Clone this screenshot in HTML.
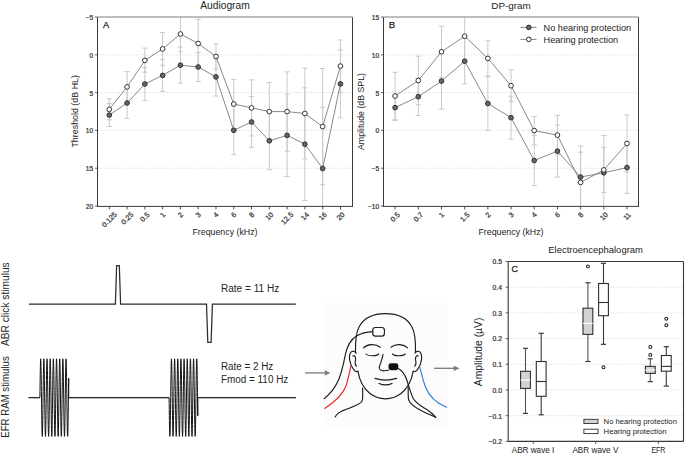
<!DOCTYPE html><html><head><meta charset="utf-8"><title>Figure</title><style>html,body{margin:0;padding:0;background:#fff;width:685px;height:455px;overflow:hidden;}body{position:relative;font-family:"Liberation Sans", sans-serif;}svg text{font-family:"Liberation Sans", sans-serif;}</style></head><body><svg width="685" height="455" viewBox="0 0 685 455" style="position:absolute;left:0;top:0;font-family:'Liberation Sans', sans-serif">
<defs><clipPath id="clipA"><rect x="97.5" y="17.0" width="255.0" height="189.0"/></clipPath><clipPath id="clipB"><rect x="383.5" y="17.0" width="255.0" height="189.0"/></clipPath></defs>
<rect width="685" height="455" fill="#ffffff"/>
<line x1="97.50" y1="54.80" x2="352.50" y2="54.80" stroke="#dadada" stroke-width="0.8" stroke-dasharray="1.6,1.4"/>
<line x1="97.50" y1="92.60" x2="352.50" y2="92.60" stroke="#dadada" stroke-width="0.8" stroke-dasharray="1.6,1.4"/>
<line x1="97.50" y1="130.40" x2="352.50" y2="130.40" stroke="#dadada" stroke-width="0.8" stroke-dasharray="1.6,1.4"/>
<line x1="97.50" y1="168.20" x2="352.50" y2="168.20" stroke="#dadada" stroke-width="0.8" stroke-dasharray="1.6,1.4"/>
<line x1="95.00" y1="17.00" x2="97.50" y2="17.00" stroke="#3a3a3a" stroke-width="0.8"/>
<text x="93.20" y="19.90" font-size="6.6" text-anchor="end" fill="#333" stroke="#333" stroke-width="0.22">−5</text>
<line x1="95.00" y1="54.80" x2="97.50" y2="54.80" stroke="#3a3a3a" stroke-width="0.8"/>
<text x="93.20" y="57.70" font-size="6.6" text-anchor="end" fill="#333" stroke="#333" stroke-width="0.22">0</text>
<line x1="95.00" y1="92.60" x2="97.50" y2="92.60" stroke="#3a3a3a" stroke-width="0.8"/>
<text x="93.20" y="95.50" font-size="6.6" text-anchor="end" fill="#333" stroke="#333" stroke-width="0.22">5</text>
<line x1="95.00" y1="130.40" x2="97.50" y2="130.40" stroke="#3a3a3a" stroke-width="0.8"/>
<text x="93.20" y="133.30" font-size="6.6" text-anchor="end" fill="#333" stroke="#333" stroke-width="0.22">10</text>
<line x1="95.00" y1="168.20" x2="97.50" y2="168.20" stroke="#3a3a3a" stroke-width="0.8"/>
<text x="93.20" y="171.10" font-size="6.6" text-anchor="end" fill="#333" stroke="#333" stroke-width="0.22">15</text>
<line x1="95.00" y1="206.00" x2="97.50" y2="206.00" stroke="#3a3a3a" stroke-width="0.8"/>
<text x="93.20" y="208.90" font-size="6.6" text-anchor="end" fill="#333" stroke="#333" stroke-width="0.22">20</text>
<g clip-path="url(#clipA)">
<line x1="109.30" y1="103.70" x2="109.30" y2="126.50" stroke="#c9c9c9" stroke-width="1.0"/>
<line x1="106.70" y1="103.70" x2="111.90" y2="103.70" stroke="#c9c9c9" stroke-width="1.0"/>
<line x1="106.70" y1="126.50" x2="111.90" y2="126.50" stroke="#c9c9c9" stroke-width="1.0"/>
<line x1="127.08" y1="87.40" x2="127.08" y2="118.60" stroke="#c9c9c9" stroke-width="1.0"/>
<line x1="124.48" y1="87.40" x2="129.68" y2="87.40" stroke="#c9c9c9" stroke-width="1.0"/>
<line x1="124.48" y1="118.60" x2="129.68" y2="118.60" stroke="#c9c9c9" stroke-width="1.0"/>
<line x1="144.86" y1="67.40" x2="144.86" y2="100.60" stroke="#c9c9c9" stroke-width="1.0"/>
<line x1="142.26" y1="67.40" x2="147.46" y2="67.40" stroke="#c9c9c9" stroke-width="1.0"/>
<line x1="142.26" y1="100.60" x2="147.46" y2="100.60" stroke="#c9c9c9" stroke-width="1.0"/>
<line x1="162.64" y1="59.50" x2="162.64" y2="91.40" stroke="#c9c9c9" stroke-width="1.0"/>
<line x1="160.04" y1="59.50" x2="165.24" y2="59.50" stroke="#c9c9c9" stroke-width="1.0"/>
<line x1="160.04" y1="91.40" x2="165.24" y2="91.40" stroke="#c9c9c9" stroke-width="1.0"/>
<line x1="180.42" y1="47.00" x2="180.42" y2="83.20" stroke="#c9c9c9" stroke-width="1.0"/>
<line x1="177.82" y1="47.00" x2="183.02" y2="47.00" stroke="#c9c9c9" stroke-width="1.0"/>
<line x1="177.82" y1="83.20" x2="183.02" y2="83.20" stroke="#c9c9c9" stroke-width="1.0"/>
<line x1="198.20" y1="52.50" x2="198.20" y2="81.50" stroke="#c9c9c9" stroke-width="1.0"/>
<line x1="195.60" y1="52.50" x2="200.80" y2="52.50" stroke="#c9c9c9" stroke-width="1.0"/>
<line x1="195.60" y1="81.50" x2="200.80" y2="81.50" stroke="#c9c9c9" stroke-width="1.0"/>
<line x1="215.98" y1="57.80" x2="215.98" y2="96.00" stroke="#c9c9c9" stroke-width="1.0"/>
<line x1="213.38" y1="57.80" x2="218.58" y2="57.80" stroke="#c9c9c9" stroke-width="1.0"/>
<line x1="213.38" y1="96.00" x2="218.58" y2="96.00" stroke="#c9c9c9" stroke-width="1.0"/>
<line x1="233.76" y1="105.90" x2="233.76" y2="154.70" stroke="#c9c9c9" stroke-width="1.0"/>
<line x1="231.16" y1="105.90" x2="236.36" y2="105.90" stroke="#c9c9c9" stroke-width="1.0"/>
<line x1="231.16" y1="154.70" x2="236.36" y2="154.70" stroke="#c9c9c9" stroke-width="1.0"/>
<line x1="251.54" y1="96.60" x2="251.54" y2="147.40" stroke="#c9c9c9" stroke-width="1.0"/>
<line x1="248.94" y1="96.60" x2="254.14" y2="96.60" stroke="#c9c9c9" stroke-width="1.0"/>
<line x1="248.94" y1="147.40" x2="254.14" y2="147.40" stroke="#c9c9c9" stroke-width="1.0"/>
<line x1="269.32" y1="111.90" x2="269.32" y2="169.70" stroke="#c9c9c9" stroke-width="1.0"/>
<line x1="266.72" y1="111.90" x2="271.92" y2="111.90" stroke="#c9c9c9" stroke-width="1.0"/>
<line x1="266.72" y1="169.70" x2="271.92" y2="169.70" stroke="#c9c9c9" stroke-width="1.0"/>
<line x1="287.10" y1="94.20" x2="287.10" y2="176.60" stroke="#c9c9c9" stroke-width="1.0"/>
<line x1="284.50" y1="94.20" x2="289.70" y2="94.20" stroke="#c9c9c9" stroke-width="1.0"/>
<line x1="284.50" y1="176.60" x2="289.70" y2="176.60" stroke="#c9c9c9" stroke-width="1.0"/>
<line x1="304.88" y1="87.80" x2="304.88" y2="200.60" stroke="#c9c9c9" stroke-width="1.0"/>
<line x1="302.28" y1="87.80" x2="307.48" y2="87.80" stroke="#c9c9c9" stroke-width="1.0"/>
<line x1="302.28" y1="200.60" x2="307.48" y2="200.60" stroke="#c9c9c9" stroke-width="1.0"/>
<line x1="322.66" y1="107.30" x2="322.66" y2="229.70" stroke="#c9c9c9" stroke-width="1.0"/>
<line x1="320.06" y1="107.30" x2="325.26" y2="107.30" stroke="#c9c9c9" stroke-width="1.0"/>
<line x1="340.44" y1="50.00" x2="340.44" y2="117.80" stroke="#c9c9c9" stroke-width="1.0"/>
<line x1="337.84" y1="50.00" x2="343.04" y2="50.00" stroke="#c9c9c9" stroke-width="1.0"/>
<line x1="337.84" y1="117.80" x2="343.04" y2="117.80" stroke="#c9c9c9" stroke-width="1.0"/>
</g>
<g clip-path="url(#clipA)">
<line x1="109.30" y1="98.80" x2="109.30" y2="119.80" stroke="#c9c9c9" stroke-width="1.0"/>
<line x1="106.70" y1="98.80" x2="111.90" y2="98.80" stroke="#c9c9c9" stroke-width="1.0"/>
<line x1="106.70" y1="119.80" x2="111.90" y2="119.80" stroke="#c9c9c9" stroke-width="1.0"/>
<line x1="127.08" y1="71.60" x2="127.08" y2="102.20" stroke="#c9c9c9" stroke-width="1.0"/>
<line x1="124.48" y1="71.60" x2="129.68" y2="71.60" stroke="#c9c9c9" stroke-width="1.0"/>
<line x1="124.48" y1="102.20" x2="129.68" y2="102.20" stroke="#c9c9c9" stroke-width="1.0"/>
<line x1="144.86" y1="48.10" x2="144.86" y2="72.30" stroke="#c9c9c9" stroke-width="1.0"/>
<line x1="142.26" y1="48.10" x2="147.46" y2="48.10" stroke="#c9c9c9" stroke-width="1.0"/>
<line x1="142.26" y1="72.30" x2="147.46" y2="72.30" stroke="#c9c9c9" stroke-width="1.0"/>
<line x1="162.64" y1="32.60" x2="162.64" y2="65.30" stroke="#c9c9c9" stroke-width="1.0"/>
<line x1="160.04" y1="32.60" x2="165.24" y2="32.60" stroke="#c9c9c9" stroke-width="1.0"/>
<line x1="160.04" y1="65.30" x2="165.24" y2="65.30" stroke="#c9c9c9" stroke-width="1.0"/>
<line x1="180.42" y1="16.40" x2="180.42" y2="51.60" stroke="#c9c9c9" stroke-width="1.0"/>
<line x1="177.82" y1="51.60" x2="183.02" y2="51.60" stroke="#c9c9c9" stroke-width="1.0"/>
<line x1="198.20" y1="19.30" x2="198.20" y2="67.70" stroke="#c9c9c9" stroke-width="1.0"/>
<line x1="195.60" y1="19.30" x2="200.80" y2="19.30" stroke="#c9c9c9" stroke-width="1.0"/>
<line x1="195.60" y1="67.70" x2="200.80" y2="67.70" stroke="#c9c9c9" stroke-width="1.0"/>
<line x1="215.98" y1="43.70" x2="215.98" y2="69.30" stroke="#c9c9c9" stroke-width="1.0"/>
<line x1="213.38" y1="43.70" x2="218.58" y2="43.70" stroke="#c9c9c9" stroke-width="1.0"/>
<line x1="213.38" y1="69.30" x2="218.58" y2="69.30" stroke="#c9c9c9" stroke-width="1.0"/>
<line x1="233.76" y1="79.50" x2="233.76" y2="128.50" stroke="#c9c9c9" stroke-width="1.0"/>
<line x1="231.16" y1="79.50" x2="236.36" y2="79.50" stroke="#c9c9c9" stroke-width="1.0"/>
<line x1="231.16" y1="128.50" x2="236.36" y2="128.50" stroke="#c9c9c9" stroke-width="1.0"/>
<line x1="251.54" y1="79.90" x2="251.54" y2="135.90" stroke="#c9c9c9" stroke-width="1.0"/>
<line x1="248.94" y1="79.90" x2="254.14" y2="79.90" stroke="#c9c9c9" stroke-width="1.0"/>
<line x1="248.94" y1="135.90" x2="254.14" y2="135.90" stroke="#c9c9c9" stroke-width="1.0"/>
<line x1="269.32" y1="82.50" x2="269.32" y2="140.70" stroke="#c9c9c9" stroke-width="1.0"/>
<line x1="266.72" y1="82.50" x2="271.92" y2="82.50" stroke="#c9c9c9" stroke-width="1.0"/>
<line x1="266.72" y1="140.70" x2="271.92" y2="140.70" stroke="#c9c9c9" stroke-width="1.0"/>
<line x1="287.10" y1="71.90" x2="287.10" y2="151.30" stroke="#c9c9c9" stroke-width="1.0"/>
<line x1="284.50" y1="71.90" x2="289.70" y2="71.90" stroke="#c9c9c9" stroke-width="1.0"/>
<line x1="284.50" y1="151.30" x2="289.70" y2="151.30" stroke="#c9c9c9" stroke-width="1.0"/>
<line x1="304.88" y1="68.10" x2="304.88" y2="158.90" stroke="#c9c9c9" stroke-width="1.0"/>
<line x1="302.28" y1="68.10" x2="307.48" y2="68.10" stroke="#c9c9c9" stroke-width="1.0"/>
<line x1="302.28" y1="158.90" x2="307.48" y2="158.90" stroke="#c9c9c9" stroke-width="1.0"/>
<line x1="322.66" y1="68.50" x2="322.66" y2="184.70" stroke="#c9c9c9" stroke-width="1.0"/>
<line x1="320.06" y1="68.50" x2="325.26" y2="68.50" stroke="#c9c9c9" stroke-width="1.0"/>
<line x1="320.06" y1="184.70" x2="325.26" y2="184.70" stroke="#c9c9c9" stroke-width="1.0"/>
<line x1="340.44" y1="40.00" x2="340.44" y2="92.20" stroke="#c9c9c9" stroke-width="1.0"/>
<line x1="337.84" y1="40.00" x2="343.04" y2="40.00" stroke="#c9c9c9" stroke-width="1.0"/>
<line x1="337.84" y1="92.20" x2="343.04" y2="92.20" stroke="#c9c9c9" stroke-width="1.0"/>
</g>
<polyline points="109.30,115.10 127.08,103.00 144.86,84.00 162.64,75.40 180.42,65.20 198.20,67.00 215.98,76.90 233.76,130.30 251.54,122.00 269.32,140.80 287.10,135.40 304.88,144.20 322.66,168.50 340.44,83.90" fill="none" stroke="#7a7a7a" stroke-width="0.9"/>
<polyline points="109.30,109.30 127.08,86.90 144.86,60.40 162.64,48.90 180.42,34.00 198.20,43.50 215.98,56.50 233.76,104.00 251.54,107.90 269.32,111.60 287.10,111.60 304.88,113.50 322.66,126.60 340.44,66.10" fill="none" stroke="#7a7a7a" stroke-width="0.9"/>
<circle cx="109.30" cy="115.10" r="2.35" fill="#666666" stroke="#2a2a2a" stroke-width="0.95"/>
<circle cx="127.08" cy="103.00" r="2.35" fill="#666666" stroke="#2a2a2a" stroke-width="0.95"/>
<circle cx="144.86" cy="84.00" r="2.35" fill="#666666" stroke="#2a2a2a" stroke-width="0.95"/>
<circle cx="162.64" cy="75.40" r="2.35" fill="#666666" stroke="#2a2a2a" stroke-width="0.95"/>
<circle cx="180.42" cy="65.20" r="2.35" fill="#666666" stroke="#2a2a2a" stroke-width="0.95"/>
<circle cx="198.20" cy="67.00" r="2.35" fill="#666666" stroke="#2a2a2a" stroke-width="0.95"/>
<circle cx="215.98" cy="76.90" r="2.35" fill="#666666" stroke="#2a2a2a" stroke-width="0.95"/>
<circle cx="233.76" cy="130.30" r="2.35" fill="#666666" stroke="#2a2a2a" stroke-width="0.95"/>
<circle cx="251.54" cy="122.00" r="2.35" fill="#666666" stroke="#2a2a2a" stroke-width="0.95"/>
<circle cx="269.32" cy="140.80" r="2.35" fill="#666666" stroke="#2a2a2a" stroke-width="0.95"/>
<circle cx="287.10" cy="135.40" r="2.35" fill="#666666" stroke="#2a2a2a" stroke-width="0.95"/>
<circle cx="304.88" cy="144.20" r="2.35" fill="#666666" stroke="#2a2a2a" stroke-width="0.95"/>
<circle cx="322.66" cy="168.50" r="2.35" fill="#666666" stroke="#2a2a2a" stroke-width="0.95"/>
<circle cx="340.44" cy="83.90" r="2.35" fill="#666666" stroke="#2a2a2a" stroke-width="0.95"/>
<circle cx="109.30" cy="109.30" r="2.35" fill="#ffffff" stroke="#2a2a2a" stroke-width="0.95"/>
<circle cx="127.08" cy="86.90" r="2.35" fill="#ffffff" stroke="#2a2a2a" stroke-width="0.95"/>
<circle cx="144.86" cy="60.40" r="2.35" fill="#ffffff" stroke="#2a2a2a" stroke-width="0.95"/>
<circle cx="162.64" cy="48.90" r="2.35" fill="#ffffff" stroke="#2a2a2a" stroke-width="0.95"/>
<circle cx="180.42" cy="34.00" r="2.35" fill="#ffffff" stroke="#2a2a2a" stroke-width="0.95"/>
<circle cx="198.20" cy="43.50" r="2.35" fill="#ffffff" stroke="#2a2a2a" stroke-width="0.95"/>
<circle cx="215.98" cy="56.50" r="2.35" fill="#ffffff" stroke="#2a2a2a" stroke-width="0.95"/>
<circle cx="233.76" cy="104.00" r="2.35" fill="#ffffff" stroke="#2a2a2a" stroke-width="0.95"/>
<circle cx="251.54" cy="107.90" r="2.35" fill="#ffffff" stroke="#2a2a2a" stroke-width="0.95"/>
<circle cx="269.32" cy="111.60" r="2.35" fill="#ffffff" stroke="#2a2a2a" stroke-width="0.95"/>
<circle cx="287.10" cy="111.60" r="2.35" fill="#ffffff" stroke="#2a2a2a" stroke-width="0.95"/>
<circle cx="304.88" cy="113.50" r="2.35" fill="#ffffff" stroke="#2a2a2a" stroke-width="0.95"/>
<circle cx="322.66" cy="126.60" r="2.35" fill="#ffffff" stroke="#2a2a2a" stroke-width="0.95"/>
<circle cx="340.44" cy="66.10" r="2.35" fill="#ffffff" stroke="#2a2a2a" stroke-width="0.95"/>
<line x1="97.00" y1="206.40" x2="353.00" y2="206.40" stroke="#3a3a3a" stroke-width="1.0"/>
<line x1="97.50" y1="17.00" x2="97.50" y2="206.90" stroke="#3a3a3a" stroke-width="1.0"/>
<line x1="352.50" y1="17.00" x2="352.50" y2="206.90" stroke="#3a3a3a" stroke-width="1.0"/>
<line x1="97.50" y1="17.00" x2="352.50" y2="17.00" stroke="#a8a8a8" stroke-width="1.3"/>
<line x1="109.30" y1="206.90" x2="109.30" y2="209.40" stroke="#3a3a3a" stroke-width="0.9"/>
<line x1="127.08" y1="206.90" x2="127.08" y2="209.40" stroke="#3a3a3a" stroke-width="0.9"/>
<line x1="144.86" y1="206.90" x2="144.86" y2="209.40" stroke="#3a3a3a" stroke-width="0.9"/>
<line x1="162.64" y1="206.90" x2="162.64" y2="209.40" stroke="#3a3a3a" stroke-width="0.9"/>
<line x1="180.42" y1="206.90" x2="180.42" y2="209.40" stroke="#3a3a3a" stroke-width="0.9"/>
<line x1="198.20" y1="206.90" x2="198.20" y2="209.40" stroke="#3a3a3a" stroke-width="0.9"/>
<line x1="215.98" y1="206.90" x2="215.98" y2="209.40" stroke="#3a3a3a" stroke-width="0.9"/>
<line x1="233.76" y1="206.90" x2="233.76" y2="209.40" stroke="#3a3a3a" stroke-width="0.9"/>
<line x1="251.54" y1="206.90" x2="251.54" y2="209.40" stroke="#3a3a3a" stroke-width="0.9"/>
<line x1="269.32" y1="206.90" x2="269.32" y2="209.40" stroke="#3a3a3a" stroke-width="0.9"/>
<line x1="287.10" y1="206.90" x2="287.10" y2="209.40" stroke="#3a3a3a" stroke-width="0.9"/>
<line x1="304.88" y1="206.90" x2="304.88" y2="209.40" stroke="#3a3a3a" stroke-width="0.9"/>
<line x1="322.66" y1="206.90" x2="322.66" y2="209.40" stroke="#3a3a3a" stroke-width="0.9"/>
<line x1="340.44" y1="206.90" x2="340.44" y2="209.40" stroke="#3a3a3a" stroke-width="0.9"/>
<text x="225.00" y="8.80" font-size="10.1" text-anchor="middle" fill="#222" textLength="49.50" lengthAdjust="spacingAndGlyphs">Audiogram</text>
<text x="103.00" y="27.60" font-size="9.3" text-anchor="start" fill="#222" stroke="#222" stroke-width="0.25">A</text>
<text x="225.00" y="235.20" font-size="8.7" text-anchor="middle" fill="#222" textLength="65.00" lengthAdjust="spacingAndGlyphs">Frequency (kHz)</text>
<text transform="translate(77.9,111.3) rotate(-90)" font-size="9.3" text-anchor="middle" fill="#222" textLength="72.5" lengthAdjust="spacingAndGlyphs">Threshold (dB HL)</text>
<line x1="383.50" y1="54.80" x2="638.50" y2="54.80" stroke="#dadada" stroke-width="0.8" stroke-dasharray="1.6,1.4"/>
<line x1="383.50" y1="92.60" x2="638.50" y2="92.60" stroke="#dadada" stroke-width="0.8" stroke-dasharray="1.6,1.4"/>
<line x1="383.50" y1="130.40" x2="638.50" y2="130.40" stroke="#dadada" stroke-width="0.8" stroke-dasharray="1.6,1.4"/>
<line x1="383.50" y1="168.20" x2="638.50" y2="168.20" stroke="#dadada" stroke-width="0.8" stroke-dasharray="1.6,1.4"/>
<line x1="381.00" y1="17.00" x2="383.50" y2="17.00" stroke="#3a3a3a" stroke-width="0.8"/>
<text x="379.20" y="19.90" font-size="6.6" text-anchor="end" fill="#333" stroke="#333" stroke-width="0.22">15</text>
<line x1="381.00" y1="54.80" x2="383.50" y2="54.80" stroke="#3a3a3a" stroke-width="0.8"/>
<text x="379.20" y="57.70" font-size="6.6" text-anchor="end" fill="#333" stroke="#333" stroke-width="0.22">10</text>
<line x1="381.00" y1="92.60" x2="383.50" y2="92.60" stroke="#3a3a3a" stroke-width="0.8"/>
<text x="379.20" y="95.50" font-size="6.6" text-anchor="end" fill="#333" stroke="#333" stroke-width="0.22">5</text>
<line x1="381.00" y1="130.40" x2="383.50" y2="130.40" stroke="#3a3a3a" stroke-width="0.8"/>
<text x="379.20" y="133.30" font-size="6.6" text-anchor="end" fill="#333" stroke="#333" stroke-width="0.22">0</text>
<line x1="381.00" y1="168.20" x2="383.50" y2="168.20" stroke="#3a3a3a" stroke-width="0.8"/>
<text x="379.20" y="171.10" font-size="6.6" text-anchor="end" fill="#333" stroke="#333" stroke-width="0.22">−5</text>
<line x1="381.00" y1="206.00" x2="383.50" y2="206.00" stroke="#3a3a3a" stroke-width="0.8"/>
<text x="379.20" y="208.90" font-size="6.6" text-anchor="end" fill="#333" stroke="#333" stroke-width="0.22">−10</text>
<g clip-path="url(#clipB)">
<line x1="395.10" y1="94.80" x2="395.10" y2="120.60" stroke="#c9c9c9" stroke-width="1.0"/>
<line x1="392.50" y1="94.80" x2="397.70" y2="94.80" stroke="#c9c9c9" stroke-width="1.0"/>
<line x1="392.50" y1="120.60" x2="397.70" y2="120.60" stroke="#c9c9c9" stroke-width="1.0"/>
<line x1="418.29" y1="77.90" x2="418.29" y2="115.50" stroke="#c9c9c9" stroke-width="1.0"/>
<line x1="415.69" y1="77.90" x2="420.89" y2="77.90" stroke="#c9c9c9" stroke-width="1.0"/>
<line x1="415.69" y1="115.50" x2="420.89" y2="115.50" stroke="#c9c9c9" stroke-width="1.0"/>
<line x1="441.48" y1="53.00" x2="441.48" y2="109.20" stroke="#c9c9c9" stroke-width="1.0"/>
<line x1="438.88" y1="53.00" x2="444.08" y2="53.00" stroke="#c9c9c9" stroke-width="1.0"/>
<line x1="438.88" y1="109.20" x2="444.08" y2="109.20" stroke="#c9c9c9" stroke-width="1.0"/>
<line x1="464.67" y1="38.60" x2="464.67" y2="83.80" stroke="#c9c9c9" stroke-width="1.0"/>
<line x1="462.07" y1="38.60" x2="467.27" y2="38.60" stroke="#c9c9c9" stroke-width="1.0"/>
<line x1="462.07" y1="83.80" x2="467.27" y2="83.80" stroke="#c9c9c9" stroke-width="1.0"/>
<line x1="487.86" y1="76.70" x2="487.86" y2="130.30" stroke="#c9c9c9" stroke-width="1.0"/>
<line x1="485.26" y1="76.70" x2="490.46" y2="76.70" stroke="#c9c9c9" stroke-width="1.0"/>
<line x1="485.26" y1="130.30" x2="490.46" y2="130.30" stroke="#c9c9c9" stroke-width="1.0"/>
<line x1="511.05" y1="96.20" x2="511.05" y2="139.20" stroke="#c9c9c9" stroke-width="1.0"/>
<line x1="508.45" y1="96.20" x2="513.65" y2="96.20" stroke="#c9c9c9" stroke-width="1.0"/>
<line x1="508.45" y1="139.20" x2="513.65" y2="139.20" stroke="#c9c9c9" stroke-width="1.0"/>
<line x1="534.24" y1="135.40" x2="534.24" y2="185.60" stroke="#c9c9c9" stroke-width="1.0"/>
<line x1="531.64" y1="135.40" x2="536.84" y2="135.40" stroke="#c9c9c9" stroke-width="1.0"/>
<line x1="531.64" y1="185.60" x2="536.84" y2="185.60" stroke="#c9c9c9" stroke-width="1.0"/>
<line x1="557.43" y1="125.10" x2="557.43" y2="177.10" stroke="#c9c9c9" stroke-width="1.0"/>
<line x1="554.83" y1="125.10" x2="560.03" y2="125.10" stroke="#c9c9c9" stroke-width="1.0"/>
<line x1="554.83" y1="177.10" x2="560.03" y2="177.10" stroke="#c9c9c9" stroke-width="1.0"/>
<line x1="580.62" y1="146.00" x2="580.62" y2="208.00" stroke="#c9c9c9" stroke-width="1.0"/>
<line x1="578.02" y1="146.00" x2="583.22" y2="146.00" stroke="#c9c9c9" stroke-width="1.0"/>
<line x1="603.81" y1="135.40" x2="603.81" y2="210.20" stroke="#c9c9c9" stroke-width="1.0"/>
<line x1="601.21" y1="135.40" x2="606.41" y2="135.40" stroke="#c9c9c9" stroke-width="1.0"/>
<line x1="627.00" y1="141.80" x2="627.00" y2="193.40" stroke="#c9c9c9" stroke-width="1.0"/>
<line x1="624.40" y1="141.80" x2="629.60" y2="141.80" stroke="#c9c9c9" stroke-width="1.0"/>
<line x1="624.40" y1="193.40" x2="629.60" y2="193.40" stroke="#c9c9c9" stroke-width="1.0"/>
</g>
<g clip-path="url(#clipB)">
<line x1="395.10" y1="72.30" x2="395.10" y2="119.70" stroke="#c9c9c9" stroke-width="1.0"/>
<line x1="392.50" y1="72.30" x2="397.70" y2="72.30" stroke="#c9c9c9" stroke-width="1.0"/>
<line x1="392.50" y1="119.70" x2="397.70" y2="119.70" stroke="#c9c9c9" stroke-width="1.0"/>
<line x1="418.29" y1="56.20" x2="418.29" y2="104.80" stroke="#c9c9c9" stroke-width="1.0"/>
<line x1="415.69" y1="56.20" x2="420.89" y2="56.20" stroke="#c9c9c9" stroke-width="1.0"/>
<line x1="415.69" y1="104.80" x2="420.89" y2="104.80" stroke="#c9c9c9" stroke-width="1.0"/>
<line x1="441.48" y1="26.20" x2="441.48" y2="77.40" stroke="#c9c9c9" stroke-width="1.0"/>
<line x1="438.88" y1="26.20" x2="444.08" y2="26.20" stroke="#c9c9c9" stroke-width="1.0"/>
<line x1="438.88" y1="77.40" x2="444.08" y2="77.40" stroke="#c9c9c9" stroke-width="1.0"/>
<line x1="464.67" y1="11.20" x2="464.67" y2="61.20" stroke="#c9c9c9" stroke-width="1.0"/>
<line x1="462.07" y1="61.20" x2="467.27" y2="61.20" stroke="#c9c9c9" stroke-width="1.0"/>
<line x1="487.86" y1="40.80" x2="487.86" y2="76.20" stroke="#c9c9c9" stroke-width="1.0"/>
<line x1="485.26" y1="40.80" x2="490.46" y2="40.80" stroke="#c9c9c9" stroke-width="1.0"/>
<line x1="485.26" y1="76.20" x2="490.46" y2="76.20" stroke="#c9c9c9" stroke-width="1.0"/>
<line x1="511.05" y1="69.70" x2="511.05" y2="101.70" stroke="#c9c9c9" stroke-width="1.0"/>
<line x1="508.45" y1="69.70" x2="513.65" y2="69.70" stroke="#c9c9c9" stroke-width="1.0"/>
<line x1="508.45" y1="101.70" x2="513.65" y2="101.70" stroke="#c9c9c9" stroke-width="1.0"/>
<line x1="534.24" y1="116.50" x2="534.24" y2="145.00" stroke="#c9c9c9" stroke-width="1.0"/>
<line x1="531.64" y1="116.50" x2="536.84" y2="116.50" stroke="#c9c9c9" stroke-width="1.0"/>
<line x1="531.64" y1="145.00" x2="536.84" y2="145.00" stroke="#c9c9c9" stroke-width="1.0"/>
<line x1="557.43" y1="115.40" x2="557.43" y2="154.80" stroke="#c9c9c9" stroke-width="1.0"/>
<line x1="554.83" y1="115.40" x2="560.03" y2="115.40" stroke="#c9c9c9" stroke-width="1.0"/>
<line x1="554.83" y1="154.80" x2="560.03" y2="154.80" stroke="#c9c9c9" stroke-width="1.0"/>
<line x1="580.62" y1="152.20" x2="580.62" y2="212.60" stroke="#c9c9c9" stroke-width="1.0"/>
<line x1="578.02" y1="152.20" x2="583.22" y2="152.20" stroke="#c9c9c9" stroke-width="1.0"/>
<line x1="603.81" y1="147.30" x2="603.81" y2="192.50" stroke="#c9c9c9" stroke-width="1.0"/>
<line x1="601.21" y1="147.30" x2="606.41" y2="147.30" stroke="#c9c9c9" stroke-width="1.0"/>
<line x1="601.21" y1="192.50" x2="606.41" y2="192.50" stroke="#c9c9c9" stroke-width="1.0"/>
<line x1="627.00" y1="115.00" x2="627.00" y2="172.00" stroke="#c9c9c9" stroke-width="1.0"/>
<line x1="624.40" y1="115.00" x2="629.60" y2="115.00" stroke="#c9c9c9" stroke-width="1.0"/>
<line x1="624.40" y1="172.00" x2="629.60" y2="172.00" stroke="#c9c9c9" stroke-width="1.0"/>
</g>
<polyline points="395.10,107.60 418.29,96.70 441.48,81.10 464.67,61.20 487.86,103.50 511.05,117.70 534.24,160.50 557.43,151.10 580.62,177.00 603.81,172.80 627.00,167.60" fill="none" stroke="#7a7a7a" stroke-width="0.9"/>
<polyline points="395.10,96.00 418.29,80.50 441.48,51.80 464.67,36.20 487.86,58.40 511.05,85.70 534.24,130.60 557.43,135.10 580.62,182.40 603.81,169.90 627.00,143.50" fill="none" stroke="#7a7a7a" stroke-width="0.9"/>
<circle cx="395.10" cy="107.60" r="2.35" fill="#666666" stroke="#2a2a2a" stroke-width="0.95"/>
<circle cx="418.29" cy="96.70" r="2.35" fill="#666666" stroke="#2a2a2a" stroke-width="0.95"/>
<circle cx="441.48" cy="81.10" r="2.35" fill="#666666" stroke="#2a2a2a" stroke-width="0.95"/>
<circle cx="464.67" cy="61.20" r="2.35" fill="#666666" stroke="#2a2a2a" stroke-width="0.95"/>
<circle cx="487.86" cy="103.50" r="2.35" fill="#666666" stroke="#2a2a2a" stroke-width="0.95"/>
<circle cx="511.05" cy="117.70" r="2.35" fill="#666666" stroke="#2a2a2a" stroke-width="0.95"/>
<circle cx="534.24" cy="160.50" r="2.35" fill="#666666" stroke="#2a2a2a" stroke-width="0.95"/>
<circle cx="557.43" cy="151.10" r="2.35" fill="#666666" stroke="#2a2a2a" stroke-width="0.95"/>
<circle cx="580.62" cy="177.00" r="2.35" fill="#666666" stroke="#2a2a2a" stroke-width="0.95"/>
<circle cx="603.81" cy="172.80" r="2.35" fill="#666666" stroke="#2a2a2a" stroke-width="0.95"/>
<circle cx="627.00" cy="167.60" r="2.35" fill="#666666" stroke="#2a2a2a" stroke-width="0.95"/>
<circle cx="395.10" cy="96.00" r="2.35" fill="#ffffff" stroke="#2a2a2a" stroke-width="0.95"/>
<circle cx="418.29" cy="80.50" r="2.35" fill="#ffffff" stroke="#2a2a2a" stroke-width="0.95"/>
<circle cx="441.48" cy="51.80" r="2.35" fill="#ffffff" stroke="#2a2a2a" stroke-width="0.95"/>
<circle cx="464.67" cy="36.20" r="2.35" fill="#ffffff" stroke="#2a2a2a" stroke-width="0.95"/>
<circle cx="487.86" cy="58.40" r="2.35" fill="#ffffff" stroke="#2a2a2a" stroke-width="0.95"/>
<circle cx="511.05" cy="85.70" r="2.35" fill="#ffffff" stroke="#2a2a2a" stroke-width="0.95"/>
<circle cx="534.24" cy="130.60" r="2.35" fill="#ffffff" stroke="#2a2a2a" stroke-width="0.95"/>
<circle cx="557.43" cy="135.10" r="2.35" fill="#ffffff" stroke="#2a2a2a" stroke-width="0.95"/>
<circle cx="580.62" cy="182.40" r="2.35" fill="#ffffff" stroke="#2a2a2a" stroke-width="0.95"/>
<circle cx="603.81" cy="169.90" r="2.35" fill="#ffffff" stroke="#2a2a2a" stroke-width="0.95"/>
<circle cx="627.00" cy="143.50" r="2.35" fill="#ffffff" stroke="#2a2a2a" stroke-width="0.95"/>
<line x1="383.00" y1="206.40" x2="639.00" y2="206.40" stroke="#3a3a3a" stroke-width="1.0"/>
<line x1="383.50" y1="17.00" x2="383.50" y2="206.90" stroke="#3a3a3a" stroke-width="1.0"/>
<line x1="638.50" y1="17.00" x2="638.50" y2="206.90" stroke="#3a3a3a" stroke-width="1.0"/>
<line x1="383.50" y1="17.00" x2="638.50" y2="17.00" stroke="#a8a8a8" stroke-width="1.3"/>
<line x1="395.10" y1="206.90" x2="395.10" y2="209.40" stroke="#3a3a3a" stroke-width="0.9"/>
<line x1="418.29" y1="206.90" x2="418.29" y2="209.40" stroke="#3a3a3a" stroke-width="0.9"/>
<line x1="441.48" y1="206.90" x2="441.48" y2="209.40" stroke="#3a3a3a" stroke-width="0.9"/>
<line x1="464.67" y1="206.90" x2="464.67" y2="209.40" stroke="#3a3a3a" stroke-width="0.9"/>
<line x1="487.86" y1="206.90" x2="487.86" y2="209.40" stroke="#3a3a3a" stroke-width="0.9"/>
<line x1="511.05" y1="206.90" x2="511.05" y2="209.40" stroke="#3a3a3a" stroke-width="0.9"/>
<line x1="534.24" y1="206.90" x2="534.24" y2="209.40" stroke="#3a3a3a" stroke-width="0.9"/>
<line x1="557.43" y1="206.90" x2="557.43" y2="209.40" stroke="#3a3a3a" stroke-width="0.9"/>
<line x1="580.62" y1="206.90" x2="580.62" y2="209.40" stroke="#3a3a3a" stroke-width="0.9"/>
<line x1="603.81" y1="206.90" x2="603.81" y2="209.40" stroke="#3a3a3a" stroke-width="0.9"/>
<line x1="627.00" y1="206.90" x2="627.00" y2="209.40" stroke="#3a3a3a" stroke-width="0.9"/>
<text x="511.00" y="8.80" font-size="9.7" text-anchor="middle" fill="#222" textLength="39.40" lengthAdjust="spacingAndGlyphs">DP-gram</text>
<text x="388.80" y="27.70" font-size="9.6" text-anchor="start" fill="#222" stroke="#222" stroke-width="0.25">B</text>
<text x="511.00" y="235.20" font-size="8.7" text-anchor="middle" fill="#222" textLength="65.00" lengthAdjust="spacingAndGlyphs">Frequency (kHz)</text>
<text transform="translate(364.3,111.5) rotate(-90)" font-size="9.3" text-anchor="middle" fill="#222" textLength="77" lengthAdjust="spacingAndGlyphs">Amplitude (dB SPL)</text>
<line x1="520.40" y1="27.40" x2="536.60" y2="27.40" stroke="#7a7a7a" stroke-width="0.9"/>
<circle cx="528.8" cy="27.4" r="2.3" fill="#666666" stroke="#2a2a2a" stroke-width="1.0"/>
<text x="543.60" y="30.60" font-size="9.1" text-anchor="start" fill="#222" textLength="87.50" lengthAdjust="spacingAndGlyphs">No hearing protection</text>
<line x1="520.40" y1="39.40" x2="536.60" y2="39.40" stroke="#7a7a7a" stroke-width="0.9"/>
<circle cx="528.8" cy="39.4" r="2.3" fill="#fff" stroke="#2a2a2a" stroke-width="1.0"/>
<text x="543.60" y="42.60" font-size="9.1" text-anchor="start" fill="#222" textLength="74.60" lengthAdjust="spacingAndGlyphs">Hearing protection</text>
<text transform="translate(109.30,219.55) rotate(-45)" font-size="7.2" text-anchor="middle" dominant-baseline="central" fill="#333" stroke="#333" stroke-width="0.22">0.125</text>
<text transform="translate(127.08,218.20) rotate(-45)" font-size="7.2" text-anchor="middle" dominant-baseline="central" fill="#333" stroke="#333" stroke-width="0.22">0.25</text>
<text transform="translate(144.86,216.85) rotate(-45)" font-size="7.2" text-anchor="middle" dominant-baseline="central" fill="#333" stroke="#333" stroke-width="0.22">0.5</text>
<text transform="translate(162.64,214.82) rotate(-45)" font-size="7.2" text-anchor="middle" dominant-baseline="central" fill="#333" stroke="#333" stroke-width="0.22">1</text>
<text transform="translate(180.42,214.82) rotate(-45)" font-size="7.2" text-anchor="middle" dominant-baseline="central" fill="#333" stroke="#333" stroke-width="0.22">2</text>
<text transform="translate(198.20,214.82) rotate(-45)" font-size="7.2" text-anchor="middle" dominant-baseline="central" fill="#333" stroke="#333" stroke-width="0.22">3</text>
<text transform="translate(215.98,214.82) rotate(-45)" font-size="7.2" text-anchor="middle" dominant-baseline="central" fill="#333" stroke="#333" stroke-width="0.22">4</text>
<text transform="translate(233.76,214.82) rotate(-45)" font-size="7.2" text-anchor="middle" dominant-baseline="central" fill="#333" stroke="#333" stroke-width="0.22">6</text>
<text transform="translate(251.54,214.82) rotate(-45)" font-size="7.2" text-anchor="middle" dominant-baseline="central" fill="#333" stroke="#333" stroke-width="0.22">8</text>
<text transform="translate(269.32,216.17) rotate(-45)" font-size="7.2" text-anchor="middle" dominant-baseline="central" fill="#333" stroke="#333" stroke-width="0.22">10</text>
<text transform="translate(287.10,218.20) rotate(-45)" font-size="7.2" text-anchor="middle" dominant-baseline="central" fill="#333" stroke="#333" stroke-width="0.22">12.5</text>
<text transform="translate(304.88,216.17) rotate(-45)" font-size="7.2" text-anchor="middle" dominant-baseline="central" fill="#333" stroke="#333" stroke-width="0.22">14</text>
<text transform="translate(322.66,216.17) rotate(-45)" font-size="7.2" text-anchor="middle" dominant-baseline="central" fill="#333" stroke="#333" stroke-width="0.22">16</text>
<text transform="translate(340.44,216.17) rotate(-45)" font-size="7.2" text-anchor="middle" dominant-baseline="central" fill="#333" stroke="#333" stroke-width="0.22">20</text>
<text transform="translate(395.10,216.85) rotate(-45)" font-size="7.2" text-anchor="middle" dominant-baseline="central" fill="#333" stroke="#333" stroke-width="0.22">0.5</text>
<text transform="translate(418.29,216.85) rotate(-45)" font-size="7.2" text-anchor="middle" dominant-baseline="central" fill="#333" stroke="#333" stroke-width="0.22">0.7</text>
<text transform="translate(441.48,214.82) rotate(-45)" font-size="7.2" text-anchor="middle" dominant-baseline="central" fill="#333" stroke="#333" stroke-width="0.22">1</text>
<text transform="translate(464.67,216.85) rotate(-45)" font-size="7.2" text-anchor="middle" dominant-baseline="central" fill="#333" stroke="#333" stroke-width="0.22">1.5</text>
<text transform="translate(487.86,214.82) rotate(-45)" font-size="7.2" text-anchor="middle" dominant-baseline="central" fill="#333" stroke="#333" stroke-width="0.22">2</text>
<text transform="translate(511.05,214.82) rotate(-45)" font-size="7.2" text-anchor="middle" dominant-baseline="central" fill="#333" stroke="#333" stroke-width="0.22">3</text>
<text transform="translate(534.24,214.82) rotate(-45)" font-size="7.2" text-anchor="middle" dominant-baseline="central" fill="#333" stroke="#333" stroke-width="0.22">4</text>
<text transform="translate(557.43,214.82) rotate(-45)" font-size="7.2" text-anchor="middle" dominant-baseline="central" fill="#333" stroke="#333" stroke-width="0.22">6</text>
<text transform="translate(580.62,214.82) rotate(-45)" font-size="7.2" text-anchor="middle" dominant-baseline="central" fill="#333" stroke="#333" stroke-width="0.22">8</text>
<text transform="translate(603.81,216.17) rotate(-45)" font-size="7.2" text-anchor="middle" dominant-baseline="central" fill="#333" stroke="#333" stroke-width="0.22">10</text>
<text transform="translate(627.00,216.17) rotate(-45)" font-size="7.2" text-anchor="middle" dominant-baseline="central" fill="#333" stroke="#333" stroke-width="0.22">11</text>
<polyline points="28.9,304 115.4,304 116.6,265.5 119.3,265.5 120.6,304 206.5,304 207.8,342.4 211.1,342.4 212.4,304 295.8,304" fill="none" stroke="#2b2b2b" stroke-width="1.25" stroke-linejoin="miter"/>
<polyline points="28.60,397.60 39.90,397.60 39.98,391.53 40.06,385.60 40.14,379.97 40.22,374.78 40.30,370.15 40.38,366.19 40.46,363.01 40.53,360.69 40.61,359.27 40.69,358.80 40.77,359.29 40.85,360.72 40.93,363.06 41.01,366.25 41.09,370.22 41.17,374.86 41.25,380.07 41.33,385.70 41.41,391.63 41.49,397.71 41.57,403.78 41.65,409.70 41.72,415.32 41.80,420.51 41.88,425.13 41.96,429.07 42.04,432.24 42.12,434.55 42.20,435.95 42.28,436.40 42.36,435.90 42.44,434.45 42.52,432.09 42.60,428.88 42.68,424.90 42.76,420.25 42.83,415.04 42.91,409.40 42.99,403.46 43.07,397.39 43.15,391.31 43.23,385.40 43.31,379.78 43.39,374.60 43.47,369.99 43.55,366.07 43.63,362.92 43.71,360.62 43.79,359.24 43.87,358.80 43.95,359.32 44.02,360.79 44.10,363.16 44.18,366.38 44.26,370.37 44.34,375.04 44.42,380.26 44.50,385.91 44.58,391.84 44.66,397.92 44.74,403.99 44.82,409.91 44.90,415.52 44.98,420.68 45.06,425.28 45.14,429.20 45.21,432.33 45.29,434.61 45.37,435.98 45.45,436.40 45.53,435.86 45.61,434.38 45.69,431.99 45.77,428.75 45.85,424.75 45.93,420.07 46.01,414.85 46.09,409.19 46.17,403.25 46.25,397.17 46.32,391.10 46.40,385.19 46.48,379.59 46.56,374.43 46.64,369.84 46.72,365.94 46.80,362.82 46.88,360.56 46.96,359.21 47.04,358.80 47.12,359.36 47.20,360.85 47.28,363.26 47.36,366.51 47.44,370.53 47.51,375.21 47.59,380.45 47.67,386.11 47.75,392.06 47.83,398.14 47.91,404.21 47.99,410.11 48.07,415.71 48.15,420.86 48.23,425.43 48.31,429.32 48.39,432.43 48.47,434.68 48.55,436.01 48.63,436.40 48.70,435.82 48.78,434.31 48.86,431.89 48.94,428.63 49.02,424.60 49.10,419.90 49.18,414.65 49.26,408.99 49.34,403.04 49.42,396.96 49.50,390.89 49.58,384.99 49.66,379.40 49.74,374.26 49.81,369.69 49.89,365.82 49.97,362.72 50.05,360.49 50.13,359.18 50.21,358.81 50.29,359.39 50.37,360.92 50.45,363.36 50.53,366.64 50.61,370.68 50.69,375.39 50.77,380.64 50.85,386.32 50.93,392.27 51.00,398.35 51.08,404.42 51.16,410.31 51.24,415.90 51.32,421.03 51.40,425.58 51.48,429.44 51.56,432.52 51.64,434.74 51.72,436.04 51.80,436.39 51.88,435.79 51.96,434.24 52.04,431.79 52.12,428.50 52.19,424.44 52.27,419.72 52.35,414.46 52.43,408.78 52.51,402.82 52.59,396.74 52.67,390.68 52.75,384.79 52.83,379.21 52.91,374.09 52.99,369.54 53.07,365.69 53.15,362.63 53.23,360.43 53.31,359.15 53.38,358.81 53.46,359.43 53.54,361.00 53.62,363.46 53.70,366.77 53.78,370.84 53.86,375.57 53.94,380.84 54.02,386.52 54.10,392.48 54.18,398.57 54.26,404.63 54.34,410.52 54.42,416.09 54.49,421.20 54.57,425.73 54.65,429.57 54.73,432.62 54.81,434.80 54.89,436.07 54.97,436.39 55.05,435.75 55.13,434.17 55.21,431.69 55.29,428.37 55.37,424.29 55.45,419.55 55.53,414.27 55.61,408.57 55.68,402.61 55.76,396.53 55.84,390.47 55.92,384.58 56.00,379.02 56.08,373.92 56.16,369.40 56.24,365.57 56.32,362.54 56.40,360.37 56.48,359.12 56.56,358.82 56.64,359.47 56.72,361.07 56.80,363.56 56.87,366.90 56.95,370.99 57.03,375.74 57.11,381.03 57.19,386.73 57.27,392.70 57.35,398.78 57.43,404.84 57.51,410.72 57.59,416.27 57.67,421.37 57.75,425.88 57.83,429.69 57.91,432.71 57.98,434.86 58.06,436.10 58.14,436.38 58.22,435.71 58.30,434.10 58.38,431.58 58.46,428.23 58.54,424.13 58.62,419.37 58.70,414.07 58.78,408.37 58.86,402.40 58.94,396.31 59.02,390.26 59.10,384.38 59.17,378.83 59.25,373.75 59.33,369.25 59.41,365.45 59.49,362.45 59.57,360.31 59.65,359.09 59.73,358.82 59.81,359.51 59.89,361.14 59.97,363.67 60.05,367.03 60.13,371.15 60.21,375.92 60.29,381.23 60.36,386.94 60.44,392.91 60.52,399.00 60.60,405.05 60.68,410.92 60.76,416.46 60.84,421.54 60.92,426.02 61.00,429.81 61.08,432.80 61.16,434.92 61.24,436.12 61.32,436.37 61.40,435.67 61.48,434.02 61.55,431.48 61.63,428.10 61.71,423.97 61.79,419.19 61.87,413.88 61.95,408.16 62.03,402.18 62.11,396.10 62.19,390.04 62.27,384.18 62.35,378.64 62.43,373.58 62.51,369.10 62.59,365.33 62.66,362.36 62.74,360.25 62.82,359.07 62.90,358.83 62.98,359.55 63.06,361.21 63.14,363.77 63.22,367.16 63.30,371.31 63.38,376.10 63.46,381.42 63.54,387.14 63.62,393.12 63.70,399.21 63.78,405.26 63.85,411.12 63.93,416.65 64.01,421.71 64.09,426.17 64.17,429.93 64.25,432.89 64.33,434.98 64.41,436.15 64.49,436.36 64.57,435.63 64.65,433.95 64.73,431.38 64.81,427.97 64.89,423.81 64.97,419.01 65.04,413.68 65.12,407.95 65.20,401.97 65.28,395.88 65.36,389.83 65.44,383.98 65.52,378.46 65.60,373.41 65.68,368.96 65.76,365.21 65.84,362.27 65.92,360.19 66.00,359.04 66.08,358.84 66.15,359.60 66.23,361.29 66.31,363.88 66.39,367.30 66.47,371.47 66.55,376.28 66.63,381.62 66.71,387.35 66.79,393.34 66.87,399.43 66.95,405.47 67.03,411.32 67.11,416.84 67.19,421.87 67.27,426.31 67.34,430.05 67.42,432.98 67.50,435.04 67.58,436.17 67.66,436.35 67.74,435.58 67.82,433.87 67.90,431.27 67.98,427.83 68.06,423.65 68.14,418.83 68.22,413.49 68.30,407.75 68.38,401.76 68.46,395.67 68.53,389.62 68.61,383.78 68.69,378.27 68.69,397.60 169.10,397.60 169.10,397.60 169.18,403.67 169.26,409.59 169.34,415.22 169.42,420.41 169.50,425.04 169.57,429.00 169.65,432.18 169.73,434.51 169.81,435.93 169.89,436.40 169.97,435.92 170.05,434.49 170.13,432.16 170.21,428.97 170.29,425.01 170.36,420.38 170.44,415.18 170.52,409.56 170.60,403.63 170.68,397.56 170.76,391.49 170.84,385.57 170.92,379.94 171.00,374.75 171.08,370.13 171.15,366.18 171.23,363.00 171.31,360.68 171.39,359.27 171.47,358.80 171.55,359.29 171.63,360.72 171.71,363.06 171.79,366.25 171.87,370.21 171.94,374.85 172.02,380.05 172.10,385.68 172.18,391.61 172.26,397.68 172.34,403.75 172.42,409.67 172.50,415.29 172.58,420.48 172.66,425.10 172.74,429.04 172.81,432.21 172.89,434.53 172.97,435.94 173.05,436.40 173.13,435.91 173.21,434.47 173.29,432.12 173.37,428.93 173.45,424.96 173.53,420.31 173.60,415.11 173.68,409.48 173.76,403.55 173.84,397.48 173.92,391.41 174.00,385.49 174.08,379.87 174.16,374.69 174.24,370.07 174.32,366.13 174.39,362.97 174.47,360.66 174.55,359.26 174.63,358.80 174.71,359.30 174.79,360.74 174.87,363.10 174.95,366.30 175.03,370.27 175.11,374.92 175.19,380.12 175.26,385.76 175.34,391.69 175.42,397.76 175.50,403.83 175.58,409.75 175.66,415.36 175.74,420.54 175.82,425.16 175.90,429.09 175.98,432.25 176.05,434.56 176.13,435.95 176.21,436.40 176.29,435.89 176.37,434.44 176.45,432.09 176.53,428.88 176.61,424.90 176.69,420.25 176.77,415.04 176.84,409.40 176.92,403.47 177.00,397.40 177.08,391.33 177.16,385.41 177.24,379.80 177.32,374.62 177.40,370.02 177.48,366.09 177.56,362.93 177.63,360.63 177.71,359.24 177.79,358.80 177.87,359.31 177.95,360.77 178.03,363.13 178.11,366.35 178.19,370.33 178.27,374.98 178.35,380.20 178.43,385.84 178.50,391.77 178.58,397.84 178.66,403.91 178.74,409.82 178.82,415.44 178.90,420.61 178.98,425.21 179.06,429.14 179.14,432.29 179.22,434.58 179.29,435.96 179.37,436.40 179.45,435.88 179.53,434.42 179.61,432.05 179.69,428.83 179.77,424.84 179.85,420.18 179.93,414.97 180.01,409.33 180.08,403.39 180.16,397.32 180.24,391.25 180.32,385.34 180.40,379.73 180.48,374.56 180.56,369.96 180.64,366.04 180.72,362.90 180.80,360.61 180.87,359.23 180.95,358.80 181.03,359.33 181.11,360.79 181.19,363.17 181.27,366.39 181.35,370.39 181.43,375.05 181.51,380.27 181.59,385.91 181.67,391.85 181.74,397.92 181.82,403.99 181.90,409.90 181.98,415.51 182.06,420.67 182.14,425.27 182.22,429.19 182.30,432.32 182.38,434.60 182.46,435.97 182.53,436.40 182.61,435.87 182.69,434.39 182.77,432.01 182.85,428.78 182.93,424.79 183.01,420.12 183.09,414.90 183.17,409.25 183.25,403.31 183.32,397.24 183.40,391.17 183.48,385.26 183.56,379.66 183.64,374.50 183.72,369.90 183.80,365.99 183.88,362.86 183.96,360.58 184.04,359.22 184.11,358.80 184.19,359.34 184.27,360.82 184.35,363.21 184.43,366.44 184.51,370.44 184.59,375.11 184.67,380.34 184.75,385.99 184.83,391.93 184.91,398.00 184.98,404.07 185.06,409.98 185.14,415.58 185.22,420.74 185.30,425.33 185.38,429.23 185.46,432.36 185.54,434.63 185.62,435.99 185.70,436.40 185.77,435.85 185.85,434.37 185.93,431.97 186.01,428.73 186.09,424.73 186.17,420.05 186.25,414.82 186.33,409.17 186.41,403.23 186.49,397.16 186.56,391.09 186.64,385.19 186.72,379.59 186.80,374.43 186.88,369.85 186.96,365.94 187.04,362.82 187.12,360.56 187.20,359.21 187.28,358.80 187.36,359.35 187.43,360.85 187.51,363.24 187.59,366.49 187.67,370.50 187.75,375.18 187.83,380.41 187.91,386.07 187.99,392.01 188.07,398.08 188.15,404.15 188.22,410.05 188.30,415.65 188.38,420.80 188.46,425.38 188.54,429.28 188.62,432.39 188.70,434.65 188.78,436.00 188.86,436.40 188.94,435.84 189.01,434.34 189.09,431.94 189.17,428.69 189.25,424.67 189.33,419.99 189.41,414.75 189.49,409.09 189.57,403.15 189.65,397.08 189.73,391.01 189.80,385.11 189.88,379.51 189.96,374.37 190.04,369.79 190.12,365.90 190.20,362.79 190.28,360.54 190.36,359.20 190.44,358.80 190.52,359.37 190.60,360.87 190.67,363.28 190.75,366.54 190.83,370.56 190.91,375.25 190.99,380.48 191.07,386.14 191.15,392.09 191.23,398.16 191.31,404.23 191.39,410.13 191.46,415.72 191.54,420.87 191.62,425.44 191.70,429.33 191.78,432.43 191.86,434.68 191.94,436.01 192.02,436.40 192.10,435.83 192.18,434.31 192.25,431.90 192.33,428.64 192.41,424.61 192.49,419.92 192.57,414.68 192.65,409.02 192.73,403.07 192.81,397.00 192.89,390.93 192.97,385.03 193.04,379.44 193.12,374.30 193.20,369.73 193.28,365.85 193.36,362.75 193.44,360.51 193.52,359.19 193.60,358.81 193.68,359.38 193.76,360.90 193.84,363.32 193.91,366.59 193.99,370.62 194.07,375.31 194.15,380.56 194.23,386.22 194.31,392.17 194.39,398.24 194.47,404.31 194.55,410.21 194.63,415.79 194.70,420.93 194.78,425.49 194.86,429.37 194.94,432.47 195.02,434.70 195.10,436.02 195.18,436.39 195.26,435.81 195.34,434.29 195.42,431.86 195.49,428.59 195.57,424.55 195.65,419.85 195.73,414.61 195.81,408.94 195.89,402.99 195.97,396.92 196.05,390.85 196.13,384.96 196.21,379.37 196.28,374.24 196.36,369.68 196.44,365.81 196.52,362.72 196.60,360.49 196.68,359.17 196.76,358.81 196.84,359.39 196.92,360.92 197.00,363.36 197.08,366.63 197.15,370.67 197.23,375.38 197.31,380.63 197.39,386.30 197.47,392.25 197.55,398.33 197.63,404.39 197.71,410.28 197.79,415.86 197.79,397.60 295.80,397.60" fill="none" stroke="#111" stroke-width="1.0"/>
<line x1="28.60" y1="397.60" x2="40.00" y2="397.60" stroke="#2b2b2b" stroke-width="1.25"/>
<line x1="68.69" y1="397.60" x2="169.10" y2="397.60" stroke="#2b2b2b" stroke-width="1.25"/>
<line x1="197.79" y1="397.60" x2="295.80" y2="397.60" stroke="#2b2b2b" stroke-width="1.25"/>
<text x="220.90" y="291.70" font-size="10" text-anchor="start" fill="#262626" textLength="58.30" lengthAdjust="spacingAndGlyphs">Rate = 11 Hz</text>
<text x="220.90" y="369.60" font-size="10" text-anchor="start" fill="#262626" textLength="52.30" lengthAdjust="spacingAndGlyphs">Rate = 2 Hz</text>
<text x="220.90" y="382.90" font-size="10" text-anchor="start" fill="#262626" textLength="67.40" lengthAdjust="spacingAndGlyphs">Fmod = 110 Hz</text>
<text transform="translate(9.4,304.2) rotate(-90)" font-size="10.3" text-anchor="middle" fill="#262626" textLength="83.7" lengthAdjust="spacingAndGlyphs">ABR click stimulus</text>
<text transform="translate(9.4,397.0) rotate(-90)" font-size="10.3" text-anchor="middle" fill="#262626" textLength="81.5" lengthAdjust="spacingAndGlyphs">EFR RAM stimulus</text>
<rect x="323.8" y="303.2" width="123.5" height="125.2" fill="#fdfcfa"/>
<path d="M355.5,352.5 C355.3,343 355.8,333 359,327 C364,317.5 374,313.6 385.5,313.6 C397,313.6 407,317.5 412,327 C415.2,333 415.7,343 415.5,352.5" fill="none" stroke="#1c1c1c" stroke-width="1.15" stroke-linecap="round" stroke-linejoin="round"/>
<path d="M356.2,353.2 C355,351.2 352.6,350.7 351,352.1 C349.6,353.6 349.3,357 349.6,359.6 C350,363.2 351.6,367 353.8,369.8 C355,371.3 356.6,372 357.9,371.2" fill="none" stroke="#1c1c1c" stroke-width="1.15" stroke-linecap="round" stroke-linejoin="round"/>
<path d="M352.8,355.9 C353.6,355.5 354.7,355.8 355.3,357 C356,358.6 355.6,360.5 355.2,362 C354.9,363.6 355.6,365.3 356.4,366.1" fill="none" stroke="#1c1c1c" stroke-width="1.15" stroke-linecap="round" stroke-linejoin="round"/>
<path d="M414.90,353.20 C416.10,351.20 418.50,350.70 420.10,352.10 C421.50,353.60 421.80,357.00 421.50,359.60 C421.10,363.20 419.50,367.00 417.30,369.80 C416.10,371.30 414.50,372.00 413.20,371.20" fill="none" stroke="#1c1c1c" stroke-width="1.15" stroke-linecap="round" stroke-linejoin="round"/>
<path d="M418.30,355.90 C417.50,355.50 416.40,355.80 415.80,357.00 C415.10,358.60 415.50,360.50 415.90,362.00 C416.20,363.60 415.50,365.30 414.70,366.10" fill="none" stroke="#1c1c1c" stroke-width="1.15" stroke-linecap="round" stroke-linejoin="round"/>
<path d="M357.9,371.2 C359.5,381 363,388 370,393.5 C375,397.3 380,398.8 385.5,398.8 C391,398.8 396,397.3 401,393.5 C408,388 411.6,381 413.2,371.2" fill="none" stroke="#1c1c1c" stroke-width="1.15" stroke-linecap="round" stroke-linejoin="round"/>
<path d="M363.6,347.8 C367,344.2 375,343.2 380.2,347.2" fill="none" stroke="#1c1c1c" stroke-width="1.15" stroke-linecap="round" stroke-linejoin="round"/>
<path d="M391,347.2 C396,343.2 404,344.2 407.6,347.8" fill="none" stroke="#1c1c1c" stroke-width="1.15" stroke-linecap="round" stroke-linejoin="round"/>
<path d="M366.1,354 C368,356.3 376.5,356.3 378.9,354" fill="none" stroke="#1c1c1c" stroke-width="1.15" stroke-linecap="round" stroke-linejoin="round"/>
<path d="M392.4,354 C394.6,356.3 403,356.3 405.2,354" fill="none" stroke="#1c1c1c" stroke-width="1.15" stroke-linecap="round" stroke-linejoin="round"/>
<path d="M383,354.3 C382.5,359 380.5,363 379.4,366.5 C378.6,369 380.5,370.9 384,370.8 L388.5,370.2" fill="none" stroke="#1c1c1c" stroke-width="1.15" stroke-linecap="round" stroke-linejoin="round"/>
<path d="M375,378.4 C381,380.4 390,380.4 396.6,378.4" fill="none" stroke="#1c1c1c" stroke-width="1.15" stroke-linecap="round" stroke-linejoin="round"/>
<path d="M379,383.4 C383,385.3 388,385.3 392,383.4" fill="none" stroke="#1c1c1c" stroke-width="1.15" stroke-linecap="round" stroke-linejoin="round"/>
<path d="M362.6,388 C362.8,393 362.8,398 362.2,401 C360,404.8 352,406.8 343,410.6 C339,412.4 336.5,414.6 335.2,416.9" fill="none" stroke="#1c1c1c" stroke-width="1.15" stroke-linecap="round" stroke-linejoin="round"/>
<path d="M408.2,386.5 C408.2,391 408,396 408.6,399.8 C410,404.5 416,408 423,411.5 C428,414 432.5,415.8 435.8,417.4" fill="none" stroke="#1c1c1c" stroke-width="1.15" stroke-linecap="round" stroke-linejoin="round"/>
<rect x="372.8" y="327.5" width="11.6" height="8.6" rx="2.6" fill="#fdfcfa" stroke="#1c1c1c" stroke-width="1.15"/>
<path d="M372.8,331.6 C366,331.8 360.5,333.5 356.5,336 C350,340 347,347 345.5,354 C343.5,364 342,372 338.5,380 C335,388 329.5,394.5 324.1,398.7" fill="none" stroke="#1c1c1c" stroke-width="1.15" stroke-linecap="round" stroke-linejoin="round"/>
<path d="M350.8,366.4 C349.5,372 348,380 346,386 C343,394 337,400.5 324.7,408.4" fill="none" stroke="#e8242c" stroke-width="1.15" stroke-linecap="round" stroke-linejoin="round"/>
<path d="M419.8,367.6 C421.5,373 422.8,380 425.5,387 C429,396 436,403 446.5,407.2" fill="none" stroke="#2a7de1" stroke-width="1.15" stroke-linecap="round" stroke-linejoin="round"/>
<rect x="388.5" y="363.2" width="9.8" height="7" rx="2.4" fill="#111"/>
<path d="M398.3,368.6 C402,370.5 405,375 406.8,380 C408.8,386 410.6,393 413.2,398.5 C416.2,403.5 421,406 426,409 C430,411.5 433.5,414.5 435.8,417.4" fill="none" stroke="#1c1c1c" stroke-width="1.15" stroke-linecap="round" stroke-linejoin="round"/>
<line x1="305.00" y1="372.90" x2="326.00" y2="372.90" stroke="#7b7b7b" stroke-width="1.3"/>
<polygon points="324.8,370.3 330.4,372.9 324.8,375.5" fill="#7b7b7b"/>
<line x1="434.10" y1="368.30" x2="455.00" y2="368.30" stroke="#7b7b7b" stroke-width="1.3"/>
<polygon points="453.8,365.7 459.6,368.3 453.8,370.9" fill="#7b7b7b"/>
<line x1="508.20" y1="287.20" x2="683.50" y2="287.20" stroke="#dadada" stroke-width="0.8" stroke-dasharray="1.6,1.4"/>
<line x1="508.20" y1="312.90" x2="683.50" y2="312.90" stroke="#dadada" stroke-width="0.8" stroke-dasharray="1.6,1.4"/>
<line x1="508.20" y1="338.60" x2="683.50" y2="338.60" stroke="#dadada" stroke-width="0.8" stroke-dasharray="1.6,1.4"/>
<line x1="508.20" y1="364.30" x2="683.50" y2="364.30" stroke="#dadada" stroke-width="0.8" stroke-dasharray="1.6,1.4"/>
<line x1="508.20" y1="390.00" x2="683.50" y2="390.00" stroke="#dadada" stroke-width="0.8" stroke-dasharray="1.6,1.4"/>
<line x1="508.20" y1="415.70" x2="683.50" y2="415.70" stroke="#dadada" stroke-width="0.8" stroke-dasharray="1.6,1.4"/>
<line x1="505.60" y1="261.50" x2="508.20" y2="261.50" stroke="#3a3a3a" stroke-width="0.8"/>
<text x="502.00" y="264.30" font-size="6.8" text-anchor="end" fill="#333" stroke="#333" stroke-width="0.22">0.5</text>
<line x1="505.60" y1="287.20" x2="508.20" y2="287.20" stroke="#3a3a3a" stroke-width="0.8"/>
<text x="502.00" y="290.00" font-size="6.8" text-anchor="end" fill="#333" stroke="#333" stroke-width="0.22">0.4</text>
<line x1="505.60" y1="312.90" x2="508.20" y2="312.90" stroke="#3a3a3a" stroke-width="0.8"/>
<text x="502.00" y="315.70" font-size="6.8" text-anchor="end" fill="#333" stroke="#333" stroke-width="0.22">0.3</text>
<line x1="505.60" y1="338.60" x2="508.20" y2="338.60" stroke="#3a3a3a" stroke-width="0.8"/>
<text x="502.00" y="341.40" font-size="6.8" text-anchor="end" fill="#333" stroke="#333" stroke-width="0.22">0.2</text>
<line x1="505.60" y1="364.30" x2="508.20" y2="364.30" stroke="#3a3a3a" stroke-width="0.8"/>
<text x="502.00" y="367.10" font-size="6.8" text-anchor="end" fill="#333" stroke="#333" stroke-width="0.22">0.1</text>
<line x1="505.60" y1="390.00" x2="508.20" y2="390.00" stroke="#3a3a3a" stroke-width="0.8"/>
<text x="502.00" y="392.80" font-size="6.8" text-anchor="end" fill="#333" stroke="#333" stroke-width="0.22">0.0</text>
<line x1="505.60" y1="415.70" x2="508.20" y2="415.70" stroke="#3a3a3a" stroke-width="0.8"/>
<text x="502.00" y="418.50" font-size="6.8" text-anchor="end" fill="#333" stroke="#333" stroke-width="0.22">−0.1</text>
<line x1="505.60" y1="441.40" x2="508.20" y2="441.40" stroke="#3a3a3a" stroke-width="0.8"/>
<text x="502.00" y="444.20" font-size="6.8" text-anchor="end" fill="#333" stroke="#333" stroke-width="0.22">−0.2</text>
<line x1="525.50" y1="371.30" x2="525.50" y2="348.30" stroke="#555" stroke-width="1.1"/>
<line x1="525.50" y1="388.40" x2="525.50" y2="413.40" stroke="#555" stroke-width="1.1"/>
<line x1="522.90" y1="348.30" x2="528.10" y2="348.30" stroke="#2e2e2e" stroke-width="1.1"/>
<line x1="522.90" y1="413.40" x2="528.10" y2="413.40" stroke="#2e2e2e" stroke-width="1.1"/>
<rect x="520.60" y="371.30" width="9.80" height="17.10" fill="#d3d3d3" stroke="#2e2e2e" stroke-width="1.1"/>
<line x1="520.60" y1="380.10" x2="530.40" y2="380.10" stroke="#ffffff" stroke-width="1.1"/>
<line x1="541.20" y1="361.50" x2="541.20" y2="333.30" stroke="#3a3a3a" stroke-width="1.1"/>
<line x1="541.20" y1="396.30" x2="541.20" y2="414.80" stroke="#3a3a3a" stroke-width="1.1"/>
<line x1="538.60" y1="333.30" x2="543.80" y2="333.30" stroke="#2e2e2e" stroke-width="1.1"/>
<line x1="538.60" y1="414.80" x2="543.80" y2="414.80" stroke="#2e2e2e" stroke-width="1.1"/>
<rect x="536.30" y="361.50" width="9.80" height="34.80" fill="#fff" stroke="#2e2e2e" stroke-width="1.1"/>
<line x1="536.30" y1="381.50" x2="546.10" y2="381.50" stroke="#2e2e2e" stroke-width="1.1"/>
<line x1="587.90" y1="308.20" x2="587.90" y2="282.80" stroke="#555" stroke-width="1.1"/>
<line x1="587.90" y1="334.40" x2="587.90" y2="361.50" stroke="#555" stroke-width="1.1"/>
<line x1="585.30" y1="282.80" x2="590.50" y2="282.80" stroke="#2e2e2e" stroke-width="1.1"/>
<line x1="585.30" y1="361.50" x2="590.50" y2="361.50" stroke="#2e2e2e" stroke-width="1.1"/>
<rect x="583.00" y="308.20" width="9.80" height="26.20" fill="#d3d3d3" stroke="#2e2e2e" stroke-width="1.1"/>
<line x1="583.00" y1="323.40" x2="592.80" y2="323.40" stroke="#ffffff" stroke-width="1.1"/>
<circle cx="587.90" cy="266.40" r="1.45" fill="none" stroke="#222" stroke-width="1.05"/>
<line x1="603.50" y1="283.50" x2="603.50" y2="263.30" stroke="#3a3a3a" stroke-width="1.1"/>
<line x1="603.50" y1="315.70" x2="603.50" y2="344.30" stroke="#3a3a3a" stroke-width="1.1"/>
<line x1="600.90" y1="263.30" x2="606.10" y2="263.30" stroke="#2e2e2e" stroke-width="1.1"/>
<line x1="600.90" y1="344.30" x2="606.10" y2="344.30" stroke="#2e2e2e" stroke-width="1.1"/>
<rect x="598.60" y="283.50" width="9.80" height="32.20" fill="#fff" stroke="#2e2e2e" stroke-width="1.1"/>
<line x1="598.60" y1="302.50" x2="608.40" y2="302.50" stroke="#2e2e2e" stroke-width="1.1"/>
<circle cx="603.50" cy="367.20" r="1.45" fill="none" stroke="#222" stroke-width="1.05"/>
<line x1="650.30" y1="366.40" x2="650.30" y2="358.80" stroke="#555" stroke-width="1.1"/>
<line x1="650.30" y1="373.40" x2="650.30" y2="381.70" stroke="#555" stroke-width="1.1"/>
<line x1="647.70" y1="358.80" x2="652.90" y2="358.80" stroke="#2e2e2e" stroke-width="1.1"/>
<line x1="647.70" y1="381.70" x2="652.90" y2="381.70" stroke="#2e2e2e" stroke-width="1.1"/>
<rect x="645.40" y="366.40" width="9.80" height="7.00" fill="#d3d3d3" stroke="#2e2e2e" stroke-width="1.1"/>
<line x1="645.40" y1="370.00" x2="655.20" y2="370.00" stroke="#ffffff" stroke-width="1.1"/>
<circle cx="650.30" cy="354.90" r="1.45" fill="none" stroke="#222" stroke-width="1.05"/>
<circle cx="650.30" cy="347.00" r="1.45" fill="none" stroke="#222" stroke-width="1.05"/>
<line x1="666.30" y1="355.50" x2="666.30" y2="346.70" stroke="#3a3a3a" stroke-width="1.1"/>
<line x1="666.30" y1="371.20" x2="666.30" y2="386.10" stroke="#3a3a3a" stroke-width="1.1"/>
<line x1="663.70" y1="346.70" x2="668.90" y2="346.70" stroke="#2e2e2e" stroke-width="1.1"/>
<line x1="663.70" y1="386.10" x2="668.90" y2="386.10" stroke="#2e2e2e" stroke-width="1.1"/>
<rect x="661.40" y="355.50" width="9.80" height="15.70" fill="#fff" stroke="#2e2e2e" stroke-width="1.1"/>
<line x1="661.40" y1="366.40" x2="671.20" y2="366.40" stroke="#2e2e2e" stroke-width="1.1"/>
<circle cx="666.30" cy="325.20" r="1.45" fill="none" stroke="#222" stroke-width="1.05"/>
<circle cx="666.30" cy="318.70" r="1.45" fill="none" stroke="#222" stroke-width="1.05"/>
<line x1="508.20" y1="261.50" x2="508.20" y2="441.40" stroke="#3a3a3a" stroke-width="1.1"/>
<line x1="683.50" y1="261.50" x2="683.50" y2="441.40" stroke="#3a3a3a" stroke-width="1.1"/>
<line x1="508.20" y1="441.40" x2="683.50" y2="441.40" stroke="#3a3a3a" stroke-width="1.1"/>
<line x1="508.20" y1="261.50" x2="683.50" y2="261.50" stroke="#3a3a3a" stroke-width="1.1"/>
<line x1="533.30" y1="441.40" x2="533.30" y2="444.00" stroke="#3a3a3a" stroke-width="0.8"/>
<line x1="595.70" y1="441.40" x2="595.70" y2="444.00" stroke="#3a3a3a" stroke-width="0.8"/>
<line x1="658.30" y1="441.40" x2="658.30" y2="444.00" stroke="#3a3a3a" stroke-width="0.8"/>
<text x="533.00" y="453.30" font-size="8.2" text-anchor="middle" fill="#222" textLength="42.60" lengthAdjust="spacingAndGlyphs">ABR wave I</text>
<text x="595.40" y="453.30" font-size="8.2" text-anchor="middle" fill="#222" textLength="46.00" lengthAdjust="spacingAndGlyphs">ABR wave V</text>
<text x="658.40" y="453.30" font-size="8.2" text-anchor="middle" fill="#222" textLength="14.00" lengthAdjust="spacingAndGlyphs">EFR</text>
<text x="595.60" y="253.30" font-size="9.46" text-anchor="middle" fill="#222" textLength="94.70" lengthAdjust="spacingAndGlyphs">Electroencephalogram</text>
<text x="511.60" y="271.90" font-size="8.9" text-anchor="start" fill="#222" stroke="#222" stroke-width="0.25">C</text>
<text transform="translate(482.0,351.9) rotate(-90)" font-size="10.3" text-anchor="middle" fill="#222" textLength="68.6" lengthAdjust="spacingAndGlyphs">Amplitude (µV)</text>
<rect x="583.9" y="419.3" width="14.1" height="4.2" fill="#d3d3d3" stroke="#2e2e2e" stroke-width="0.9"/>
<rect x="583.9" y="429.2" width="14.1" height="4.4" fill="#fff" stroke="#2e2e2e" stroke-width="0.9"/>
<text x="603.60" y="423.90" font-size="7.6" text-anchor="start" fill="#222" textLength="73.30" lengthAdjust="spacingAndGlyphs">No hearing protection</text>
<text x="603.60" y="433.90" font-size="7.6" text-anchor="start" fill="#222" textLength="62.90" lengthAdjust="spacingAndGlyphs">Hearing protection</text>
</svg></body></html>
